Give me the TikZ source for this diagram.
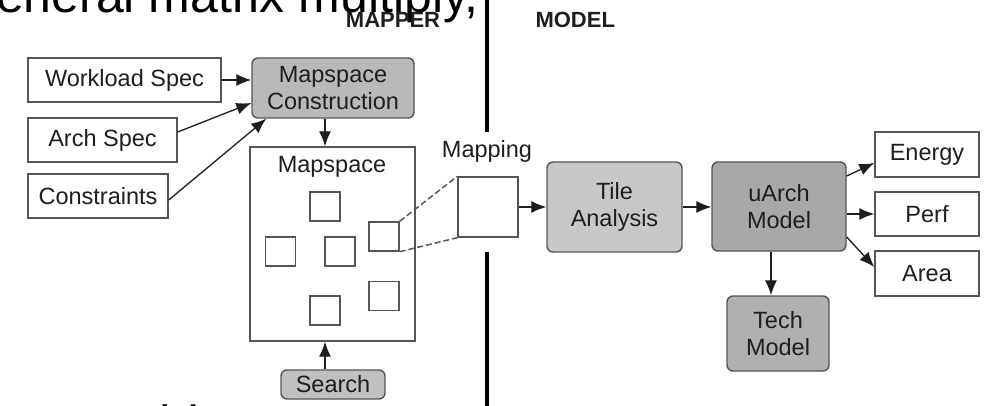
\documentclass[tikz,border=0pt]{standalone}
\usepackage{fontspec}
\setmainfont{Liberation Sans}
\usetikzlibrary{arrows.meta,calc}

\definecolor{edge}{HTML}{555555}
\definecolor{ink}{HTML}{1E1E1E}
\definecolor{fillA}{HTML}{B9B9B9}
\definecolor{fillB}{HTML}{C8C8C8}
\definecolor{fillC}{HTML}{A8A8A8}
\definecolor{fillD}{HTML}{B0B0B0}
\definecolor{fillE}{HTML}{C0C0C0}

\tikzset{
  lbl/.style={font=\fontsize{23.5}{27}\selectfont, text=ink, align=center},
  plainbox/.style={lbl, draw=edge, line width=1.4pt, fill=white, inner sep=0pt},
  procbox/.style={plainbox, rounded corners=6pt},
  cell/.style={draw=edge, line width=1.4pt, fill=white, minimum width=30pt, minimum height=29pt, inner sep=0pt},
  flow/.style={draw=ink, line width=1.3pt, -{Latex[length=15pt,width=12pt]}},
  zoomline/.style={draw=edge, line width=1.5pt, dash pattern=on 6pt off 3pt},
  header/.style={font=\fontsize{22}{24}\selectfont\bfseries, text=ink},
  divider/.style={line width=4pt, draw=black}
}

\begin{document}
\begin{tikzpicture}[x=1pt, y=-1pt]
\useasboundingbox (0,0) rectangle (990,406);
\fill[white] (0,0) rectangle (990,406);

% slide text running off the top and bottom edges
\begin{scope}
  \clip (0,0) rectangle (990,406);
  \node[anchor=base west, inner sep=0pt, font=\fontsize{50}{56}\selectfont] (title) at (-43,13) {General matrix multiply,};
  \node[anchor=base west, inner sep=0pt, font=\fontsize{52}{58}\selectfont] (footer) at (53,442) {Would};
\end{scope}

% section headers and divider
\node[header, anchor=base] (mapperhdr) at (393,28) {MAPPER};
\node[header, anchor=base west] (modelhdr) at (532,28) {MODEL};
\draw[divider] (487,0) -- (487,132);
\draw[divider] (487,252) -- (487,406);

% mapper inputs
\node[plainbox, minimum width=193pt, minimum height=44pt] (wl) at (124.5,80) {Workload Spec};
\node[plainbox, minimum width=149pt, minimum height=44pt] (arch) at (102.5,140) {Arch Spec};
\node[plainbox, minimum width=140pt, minimum height=44pt] (cons) at (98,196) {Constraints};
\node[procbox, fill=fillA, minimum width=162pt, minimum height=60pt] (mc) at (333,88) {Mapspace\\Construction};

% mapspace with candidate mappings
\node[plainbox, minimum width=165pt, minimum height=194pt] (ms) at (332.5,244) {};
\node[lbl, anchor=base] (mslbl) at (332,173) {Mapspace};
\node[cell] (sq1) at (325,206.5) {};
\node[cell] (sq2) at (280.5,251.5) {};
\node[cell] (sq3) at (340,251.5) {};
\node[cell] (sq4) at (384,236.5) {};
\node[cell] (sq5) at (384,296) {};
\node[cell] (sq6) at (325,310.5) {};
\node[procbox, fill=fillE, minimum width=104pt, minimum height=29pt] (search) at (333,384.5) {Search};

% chosen mapping
\node[plainbox, minimum width=60pt, minimum height=60pt] (map) at (488,207) {};
\node[lbl, anchor=base] (maplbl) at (487,158) {Mapping};

% model side
\node[procbox, fill=fillB, minimum width=135pt, minimum height=90pt] (tile) at (614.5,207) {Tile\\Analysis};
\node[procbox, fill=fillC, minimum width=134pt, minimum height=89pt] (uarch) at (779,206.5) {uArch\\Model};
\node[procbox, fill=fillD, minimum width=102pt, minimum height=75pt] (tech) at (778,333.5) {Tech\\Model};
\node[plainbox, minimum width=104pt, minimum height=45pt] (energy) at (927,154.5) {Energy};
\node[plainbox, minimum width=104pt, minimum height=44pt] (perf) at (927,214) {Perf};
\node[plainbox, minimum width=104pt, minimum height=45pt] (area) at (927,273.5) {Area};

% connectors
\draw[flow] (wl.east) -- (wl.east -| mc.west);
\draw[flow] ([yshift=8pt]arch.east) -- ([yshift=-15pt]mc.west);
\draw[flow] ([yshift=-4pt]cons.east) -- ([xshift=15pt]mc.south west);
\draw[flow] (mc.south -| sq1.center) -- (ms.north -| sq1.center);
\draw[flow] (search.north -| sq1.center) -- (ms.south -| sq1.center);
\draw[zoomline] (sq4.north east) -- (map.north west);
\draw[zoomline] (sq4.south east) -- (map.south west);
\draw[flow] (map.east) -- (map.east -| tile.west);
\draw[flow] (tile.east) -- (tile.east -| uarch.west);
\draw[flow] ([yshift=30.5pt]uarch.east) -- ([yshift=-8.5pt]energy.west);
\draw[flow] (uarch.east |- perf.west) -- (perf.west);
\draw[flow] ([yshift=-30.5pt]uarch.east) -- ([yshift=6.5pt]area.west);
\draw[flow] ([xshift=-8pt]uarch.south) -- ([xshift=-8pt]uarch.south |- tech.north);
\end{tikzpicture}
\end{document}
